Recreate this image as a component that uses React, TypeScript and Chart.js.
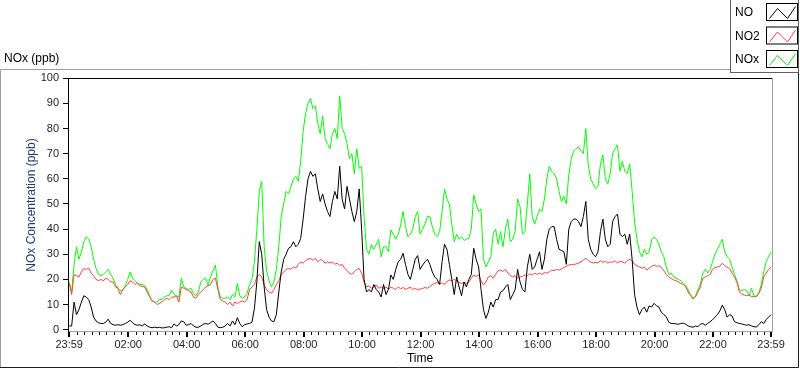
import React, { useEffect, useRef } from 'react';
import { Chart, registerables } from 'chart.js';

Chart.register(...registerables);

// Sampling step of the series (minutes after 23:59 start)
const STEP_MIN = 5;

// NO (ppb), one row per hour (12 samples of 5 minutes), last value at 24h
const noValues = [
  1.5, 1.5, 11, 6, 8, 11, 13.5, 13, 12, 9, 5, 3.5,
  2.8, 2.5, 2.5, 3, 4.2, 2.5, 2, 1.8, 2, 1.8, 2, 2.5,
  3, 3.8, 2.8, 2, 1.8, 2, 1.5, 2.3, 1.5, 1, 0.8, 1,
  0.8, 1, 0.7, 0.8, 1, 1.2, 0.8, 2.3, 1.5, 2, 3.5, 3.2,
  1.8, 2, 2.5, 1.5, 1, 1, 1.5, 2.2, 2.5, 2.2, 2.8, 3.5,
  2.5, 1, 0.8, 1, 1.5, 2.5, 1.5, 3.5, 2, 4.8, 2.5, 1.2,
  2, 2.3, 2.5, 3, 8.5, 19, 35, 30, 17, 8, 5, 3.5,
  3.2, 6, 15, 23, 28, 30, 32.4, 33, 35, 33, 34, 36.3,
  44, 53, 60, 63, 61, 62, 56, 51, 54, 50, 47, 45,
  51, 55, 52, 65, 52, 48, 57, 52, 47, 43, 47, 56,
  40, 20, 15, 16, 15, 18, 16, 15, 13, 18, 14, 16,
  21.8, 20, 24, 27, 28, 30.4, 26, 22, 20, 24, 28, 29.5,
  24, 25.7, 27, 28, 26, 23, 21, 20, 18, 27, 34, 32,
  26, 20, 14, 21, 17, 13.5, 19, 17, 20, 22, 32.4, 28,
  25, 16, 8, 4.5, 7, 11, 9, 12, 12, 15, 15.5, 17,
  18, 12, 14, 16, 24, 19, 16, 15, 25, 30, 24, 25,
  28, 31, 24, 28, 36, 40, 41, 41, 36, 32, 31.5, 31,
  26, 40, 43, 44, 44, 43, 41, 45, 51, 36, 32, 30,
  29, 31, 39, 44, 36, 33, 34, 43, 45, 46, 38, 37,
  38, 34, 38, 28, 14, 9, 6, 8, 9, 7, 9.5, 9,
  10.5, 9.5, 9, 7, 6, 5.2, 3, 2.5, 2.5, 2.3, 2.2, 2.5,
  2.6, 2.2, 1.5, 1.2, 1, 1.5, 1.2, 2.2, 2.5, 1.8, 2.5, 3.2,
  4, 5, 6, 7.5, 9.8, 8, 5, 6, 5.5, 3.2, 2.8, 2.5,
  2.3, 2, 1.8, 2, 1.5, 1.2, 1.1, 2, 3.2, 2.5, 4, 5,
  6,
];

// NO2 (ppb)
const no2Values = [
  18.4, 14, 22, 21.5, 21, 23, 24.4, 24, 24.5, 22.5, 21.5, 20,
  19.5, 20, 19.5, 20.5, 20, 19, 19, 17, 16.5, 14, 16, 17,
  18, 19.5, 19, 18, 18.5, 17.5, 17.2, 17, 15, 13, 11.5, 11,
  10, 10.5, 11, 12, 12.5, 12, 13, 13, 13.5, 11, 17, 16.5,
  16, 15.5, 15, 13, 12.5, 14, 15, 16, 17, 17.5, 18, 20,
  20.5, 16, 12, 11.5, 11, 10, 11, 9.5, 11, 10.5, 11, 11.5,
  11, 12, 16, 17, 18, 21, 22, 21, 17.8, 16, 15, 14.5,
  16, 18, 19.5, 22, 23, 24, 24.4, 24, 25, 24.5, 26, 27,
  26.5, 27.5, 28, 28.5, 27.5, 28.5, 27, 28, 27.5, 26.5, 27, 26.5,
  27, 26, 26.5, 25.5, 26, 24.5, 23.5, 22.5, 22, 23, 24, 24.4,
  22.5, 19, 17, 17.5, 16.5, 17, 17.8, 16.5, 17, 16.5, 17, 16,
  17, 16.5, 16, 17, 16.3, 16.8, 16, 16.5, 17, 16, 16.5, 15.8,
  16.2, 16.4, 16.8, 16.5, 17.2, 18, 18.4, 18.8, 18.2, 18.6, 18, 19.2,
  19.8, 19.5, 20, 19.5, 18.8, 18.4, 18.8, 18.4, 19, 20.5, 21.8, 21.2,
  21.8, 19.5, 17.8, 19, 21, 21.5, 20.5, 22, 23.5, 23.7, 23.2, 24,
  22.5, 21.5, 21, 21.5, 20.5, 21, 21.2, 21.8, 21.5, 22.2, 21.8, 22.5,
  22, 22.5, 22, 22.8, 22.5, 23, 23.7, 23.5, 24, 23.7, 24.2, 24.8,
  25.2, 25.7, 26, 25.8, 26.2, 26.5, 27, 27.7, 28.5, 27.5, 27, 26.5,
  26.8, 26.5, 27.5, 26.8, 27.2, 26.5, 27, 26.8, 27.5, 26.5, 27.2, 27,
  26.5, 27.5, 28, 27.5, 26, 25.5, 25, 24.5, 24.8, 23.7, 24.5, 25.2,
  25.7, 25.2, 25.5, 24.8, 23.5, 22, 21, 20.4, 19.8, 19.5, 19, 18.4,
  18, 17, 15, 13.5, 12.2, 13, 15, 17, 20.4, 21, 21.5, 22,
  24, 24.7, 25, 25.3, 26.4, 25.5, 24.8, 24.4, 22.5, 21, 19, 15,
  14.2, 13.8, 13.5, 13.8, 13.2, 13.1, 13.4, 14.5, 16.5, 21, 22.5, 24,
  25,
];

// NOx (ppb)
const noxValues = [
  19, 15, 26, 33, 28, 31, 35, 37, 36, 33, 28, 24.4,
  22, 21.5, 22, 23, 24, 22, 20.5, 18, 16.5, 15.5, 15.8, 17.5,
  20, 23, 20.5, 19.5, 18.5, 18, 18, 17.5, 16, 13.5, 11.5, 11,
  11, 12, 12, 13, 13.5, 13.5, 15.8, 14, 13.5, 13, 20.5, 17,
  16.5, 16, 16.5, 14.5, 13.5, 15, 19, 20, 20.4, 17.5, 21, 23.5,
  25.7, 17, 13, 12.5, 12.5, 13, 12, 14, 13, 18.4, 13.5, 12.5,
  13, 14.5, 18, 20, 27, 40, 55, 59, 33, 23.5, 19.5, 17,
  19, 24, 33, 45, 50, 55, 54, 57, 60, 61, 59, 67,
  79, 86, 90, 92, 88, 89, 82, 78, 85, 76, 74, 72,
  78, 80, 76, 93, 80, 78, 74, 68, 70, 62, 72, 64.2,
  65, 45, 32, 30, 34, 32, 34, 36, 29, 33, 33, 31,
  39.7, 38, 36, 38, 41.6, 47, 41, 37, 38, 40, 45, 47,
  38, 40, 42, 45, 45, 41, 38, 37, 39, 47, 56, 52,
  50, 42, 35, 38, 36, 37, 35.5, 36, 36.3, 40, 53.6, 50,
  47, 48, 28, 25, 27, 29, 38, 40, 34, 39, 33, 40,
  44, 35, 36, 39, 52, 49, 38, 39, 50, 62, 45, 42,
  45, 48, 47, 52, 60, 65, 63, 62, 60, 55, 51, 53,
  50, 61.5, 68, 71, 72, 72.8, 71, 70, 80, 65.5, 60, 58,
  56, 57, 66, 69.5, 60, 58, 62, 70, 72, 73.5, 63, 67,
  63, 62, 66, 55, 43, 36, 31, 29, 32, 30, 31, 35.7,
  37, 36, 34, 31, 29, 25, 22, 22.5, 21, 20.5, 20, 19.5,
  18.6, 17.5, 15.8, 14, 12.5, 13.5, 16, 18, 22.5, 24, 22.5, 24,
  27, 30, 32, 34, 36, 31, 29, 28, 25, 22, 19.5, 16,
  15.5, 16, 15.5, 13.5, 16.5, 13.5, 13, 14.5, 18, 23, 27, 29,
  31,
];

const seriesNames = ['NO', 'NO2', 'NOx'];
const seriesValues = [noValues, no2Values, noxValues];
const seriesColors = ['#000000', '#ff4040', '#00ff00'];

// X axis: minutes after the 23:59 start
const xTickMinutes = [0, 121, 241, 361, 481, 601, 721, 841, 961, 1081, 1201, 1321, 1440];
const xTickLabels = ['23:59', '02:00', '04:00', '06:00', '08:00', '10:00', '12:00', '14:00', '16:00', '18:00', '20:00', '22:00', '23:59'];
const yTickValues = [0, 10, 20, 30, 40, 50, 60, 70, 80, 90, 100];

const FONT = '"Liberation Sans", Arial, sans-serif';
const TICK_COLOR = '#1c1c30';

const framePlugin = {
  id: 'labviewFrame',
  afterDraw(chart: any) {
    const ctx = chart.ctx as CanvasRenderingContext2D;
    const area = chart.chartArea;
    const xs = chart.scales.x;
    ctx.save();
    ctx.lineWidth = 1;

    // outer panel frame
    ctx.strokeStyle = '#a0a0a0';
    ctx.beginPath();
    ctx.moveTo(0.5, 368);
    ctx.lineTo(0.5, 69.5);
    ctx.lineTo(730, 69.5);
    ctx.stroke();
    ctx.strokeStyle = '#202020';
    ctx.beginPath();
    ctx.moveTo(0, 367.5);
    ctx.lineTo(798.5, 367.5);
    ctx.lineTo(798.5, 72);
    ctx.stroke();

    // plot top (black) and right (gray) borders
    ctx.strokeStyle = '#000';
    ctx.beginPath();
    ctx.moveTo(area.left, area.top + 0.5);
    ctx.lineTo(area.right, area.top + 0.5);
    ctx.stroke();
    ctx.strokeStyle = '#a0a0a0';
    ctx.beginPath();
    ctx.moveTo(area.right + 0.5, area.top);
    ctx.lineTo(area.right + 0.5, area.bottom + 1);
    ctx.stroke();

    // x tick marks: minor every 15 minutes on the clock, major at labels
    ctx.strokeStyle = '#000';
    for (let m = 16; m < 1440; m += 15) {
      if (xTickMinutes.includes(m)) continue;
      const px = Math.round(xs.getPixelForValue(m)) + 0.5;
      ctx.beginPath();
      ctx.moveTo(px, area.bottom + 1);
      ctx.lineTo(px, area.bottom + 4);
      ctx.stroke();
    }
    ctx.lineWidth = 2;
    xTickMinutes.forEach((m) => {
      const px = Math.round(xs.getPixelForValue(m));
      ctx.beginPath();
      ctx.moveTo(px, area.bottom + 1);
      ctx.lineTo(px, area.bottom + 6);
      ctx.stroke();
    });

    // texts
    ctx.fillStyle = '#000';
    ctx.font = `12px ${FONT}`;
    ctx.textBaseline = 'middle';
    ctx.textAlign = 'left';
    ctx.fillText('NOx (ppb)', 4, 59);
    ctx.textAlign = 'center';
    ctx.fillText('Time', (area.left + area.right) / 2, 359);
    ctx.save();
    ctx.translate(32, 205);
    ctx.rotate(-Math.PI / 2);
    ctx.fillStyle = '#1e3a78';
    ctx.fillText('NOx Concentration (ppb)', 0, 0);
    ctx.restore();

    // legend panel
    ctx.lineWidth = 1;
    ctx.fillStyle = '#ffffff';
    ctx.fillRect(730, 0, 69, 72);
    ctx.strokeStyle = '#606060';
    ctx.strokeRect(730.5, -0.5, 68, 73);
    seriesNames.forEach((name, i) => {
      const cy = 13 + 23.5 * i;
      ctx.fillStyle = '#000';
      ctx.textAlign = 'left';
      ctx.font = `12px ${FONT}`;
      ctx.fillText(name, 735, cy);
      const bx = 766.5;
      const by = 3.5 + 23.5 * i;
      ctx.fillStyle = '#fff';
      ctx.fillRect(bx, by, 31, 17);
      ctx.strokeStyle = '#000';
      ctx.strokeRect(bx, by, 31, 17);
      ctx.strokeStyle = seriesColors[i];
      ctx.beginPath();
      ctx.moveTo(bx + 3, by + 15);
      ctx.lineTo(bx + 11, by + 5);
      ctx.lineTo(bx + 21, by + 15);
      ctx.lineTo(bx + 29, by + 3);
      ctx.stroke();
    });
    ctx.restore();
  },
};

export default function App() {
  const canvasRef = useRef<HTMLCanvasElement | null>(null);

  useEffect(() => {
    document.body.style.margin = '0';
    const canvas = canvasRef.current;
    if (!canvas) return;
    const chart = new Chart(canvas, {
      type: 'line',
      data: {
        datasets: seriesNames.map((name, k) => ({
          label: name,
          data: seriesValues[k].map((v, i) => ({ x: i * STEP_MIN, y: v })),
          borderColor: seriesColors[k],
          backgroundColor: seriesColors[k],
          borderWidth: 1,
          pointRadius: 0,
          tension: 0,
          fill: false,
        })),
      },
      options: {
        animation: false,
        responsive: false,
        devicePixelRatio: 1,
        events: [],
        layout: { padding: { left: 0, top: 78, right: 28, bottom: 0 } },
        plugins: {
          legend: { display: false },
          tooltip: { enabled: false },
          title: { display: false },
        },
        scales: {
          x: {
            type: 'linear',
            min: -2.5,
            max: 1442,
            afterBuildTicks: (s: any) => {
              s.ticks = xTickMinutes.map((v) => ({ value: v }));
            },
            afterFit: (s: any) => {
              s.height = 38;
            },
            ticks: {
              autoSkip: false,
              maxRotation: 0,
              padding: 7,
              color: TICK_COLOR,
              font: { family: FONT, size: 11 },
              callback: (_v: any, i: number) => xTickLabels[i],
            },
            grid: { display: true, drawOnChartArea: false, drawTicks: false },
            border: { display: true, color: '#a0a0a0', width: 1 },
          },
          y: {
            type: 'linear',
            min: -0.5,
            max: 100.1,
            afterBuildTicks: (s: any) => {
              s.ticks = yTickValues.map((v) => ({ value: v }));
            },
            afterFit: (s: any) => {
              s.width = 68;
            },
            ticks: {
              padding: 4,
              color: TICK_COLOR,
              font: { family: FONT, size: 11 },
            },
            grid: { display: true, drawOnChartArea: false, drawTicks: true, tickLength: 5, color: '#000' },
            border: { display: true, color: '#000', width: 1 },
          },
        },
      },
      plugins: [framePlugin],
    });
    return () => chart.destroy();
  }, []);

  return (
    <div style={{ width: 800, height: 369, position: 'relative', background: '#fff' }}>
      <canvas ref={canvasRef} width={800} height={369} style={{ display: 'block' }} />
    </div>
  );
}
